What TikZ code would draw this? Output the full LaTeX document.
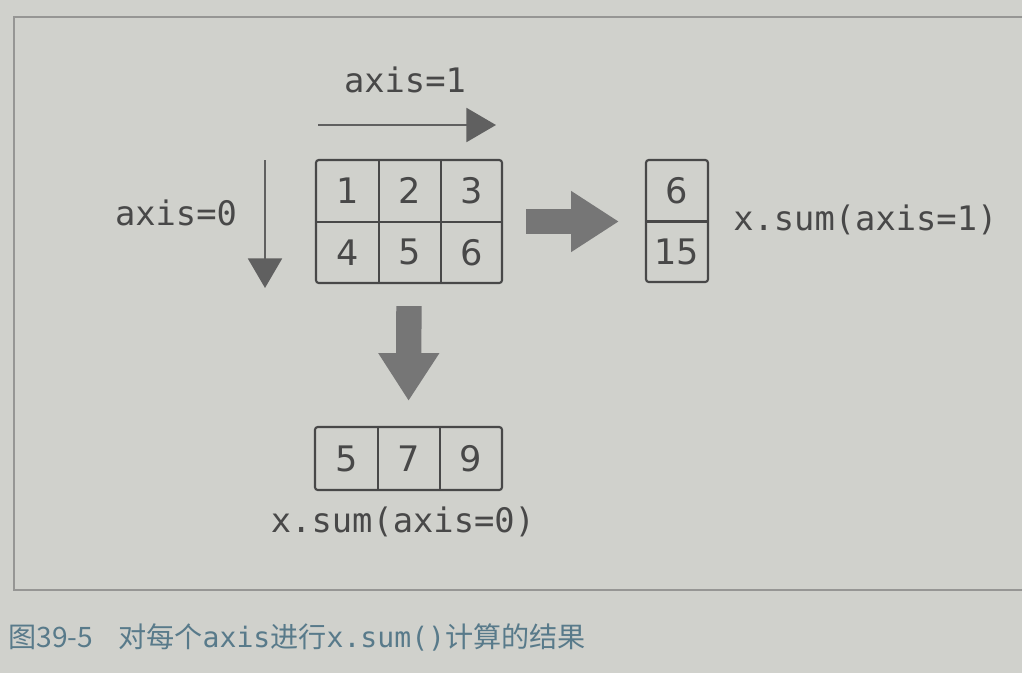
\documentclass[tikz,border=0pt]{standalone}
\usepackage{fontspec}
\setmainfont{DejaVu Sans}
\setmonofont{DejaVu Sans Mono}
\newfontfamily\cjk{Noto Sans CJK SC}
\usetikzlibrary{arrows.meta}
\definecolor{paper}{RGB}{208,209,204}
\definecolor{ink}{RGB}{72,72,72}
\definecolor{thingray}{RGB}{96,96,96}
\definecolor{arrowgray}{RGB}{118,118,118}
\definecolor{framegray}{RGB}{150,150,148}
\definecolor{captionblue}{RGB}{88,122,138}
\begin{document}
\begin{tikzpicture}[x=0.025cm,y=-0.025cm,
        label/.style={font=\fontsize{24}{28}\selectfont\ttfamily,text=ink,inner sep=0pt},
        num/.style={font=\fontsize{25}{30}\selectfont,text=ink,minimum width=1.55cm,minimum height=1.5375cm,inner sep=0pt},
        box/.style={draw=ink,line width=1.5pt,rounded corners=2pt,inner sep=0pt},
        thin/.style={draw=thingray,line width=2pt,-{Triangle[length=21pt,width=24pt]}},
        fat/.style={draw=arrowgray,line width=18pt,-{Triangle[length=34pt,width=41pt]}}]
    \fill[paper] (0,0) rectangle (1022,673);
    \useasboundingbox (0,0) rectangle (1022,673);
    \draw[framegray,line width=1pt] (1022,17) -- (14,17) -- (14,590) -- (1022,590);

    % axis labels and their arrows
    \node[label] (axisone) at (405,80) {axis=1};
    \node[label] (axiszero) at (176,213) {axis=0};
    \coordinate (onestart) at (318,125);
    \coordinate (oneend) at (496,125);
    \coordinate (zerostart) at (265,160);
    \coordinate (zeroend) at (265,288);
    \draw[thin] (onestart) -- (oneend);
    \draw[thin] (zerostart) -- (zeroend);

    % the 2x3 array
    \node[box,minimum width=4.65cm,minimum height=3.075cm] (grid) at (409,221.5) {};
    \foreach \n [count=\i from 0] in {1,...,6}
        \node[num] (a\n) at ({347.5+62*mod(\i,3)},{190.75+61.5*int(\i/3)}) {\n};
    \draw[ink,line width=1.5pt] (a1.north east) -- (a4.south east);
    \draw[ink,line width=1.5pt] (a2.north east) -- (a5.south east);
    \draw[ink,line width=1.5pt] (a1.south west) -- (a3.south east);

    % sum along axis=1
    \node[box,minimum width=1.55cm,minimum height=3.05cm] (rowsum) at (677,221) {};
    \node[num] (r1) at (677,190.5) {6};
    \node[num] (r2) at (677,251.5) {15};
    \draw[ink,line width=1.5pt] (r1.south west) -- (r1.south east);
    \draw[fat,shorten <=0.575cm,shorten >=0.65cm] (grid.east) -- (grid.east -| rowsum.west);
    \node[label,anchor=west] (sumone) at (733,220) {x.sum(axis=1)};

    % sum along axis=0
    \node[box,minimum width=4.675cm,minimum height=1.575cm] (colsum) at (408.5,458.5) {};
    \foreach \n/\x [count=\i] in {5/346.5,7/409,9/471}
        \node[num,minimum height=1.575cm] (c\i) at (\x,458.5) {\n};
    \draw[ink,line width=1.5pt] (c1.north east) -- (c1.south east);
    \draw[ink,line width=1.5pt] (c2.north east) -- (c2.south east);
    \draw[fat,shorten <=0.55cm,shorten >=0.625cm] (grid.south) -- (colsum.north);
    \node[label] (sumzero) at (403,522) {x.sum(axis=0)};

    % caption
    \node[font=\fontsize{20}{24}\selectfont\cjk,text=captionblue,anchor=west,inner sep=0pt] (fignum) at (8,637) {图39-5};
    \node[font=\fontsize{20}{24}\selectfont\cjk,text=captionblue,anchor=west,inner sep=0pt] (caption) at (118,637)
        {对每个{\ttfamily axis}进行{\ttfamily x.sum()}计算的结果};
\end{tikzpicture}
\end{document}
